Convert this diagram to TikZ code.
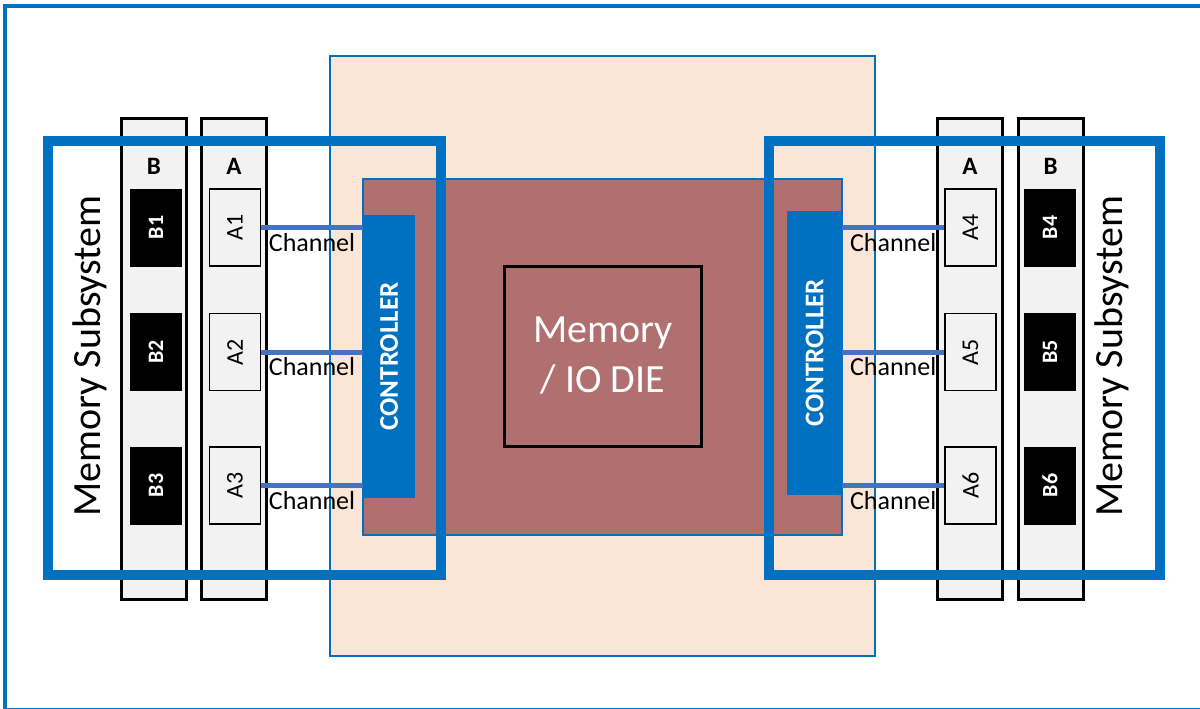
\documentclass[tikz,border=0pt]{standalone}
\usepackage{fontspec}
\setmainfont{Carlito}
\usepackage{xcolor}
\usetikzlibrary{positioning, calc}
\definecolor{frameblue}{HTML}{0070C0}
\definecolor{chanblue}{HTML}{4472C4}
\definecolor{peach}{HTML}{FBE5D6}
\definecolor{diered}{HTML}{B07070}
\definecolor{slotgray}{HTML}{F2F2F2}
\tikzstyle{dimm} = [draw=black, line width=3pt, fill=slotgray, minimum width=65pt, minimum height=481pt, inner sep=0pt]
\tikzstyle{slotA} = [draw=black, line width=1.5pt, fill=slotgray, minimum width=51pt, minimum height=77pt, inner sep=0pt, font=\fontsize{24}{28}\selectfont]
\tikzstyle{slotB} = [fill=black, text=white, minimum width=52pt, minimum height=78pt, inner sep=0pt, font=\bfseries\fontsize{22}{26}\selectfont]
\tikzstyle{hdr} = [inner sep=0pt, font=\bfseries\fontsize{25}{30}\selectfont]
\tikzstyle{ctrl} = [fill=frameblue, text=white, inner sep=0pt, font=\bfseries\fontsize{27}{32}\selectfont]
\tikzstyle{channel} = [chanblue, line width=5pt]
\tikzstyle{chanlabel} = [below=3pt, inner sep=0pt, text=black, font=\fontsize{26}{30}\selectfont]
\tikzstyle{subsys} = [draw=frameblue, line width=10pt]
\tikzstyle{subsyslabel} = [inner sep=0pt, font=\fontsize{40}{48}\selectfont]

\begin{document}
\begin{tikzpicture}[x=1pt, y=-1pt]
    \useasboundingbox (0,0) rectangle (1200,709);
    \clip (0,0) rectangle (1200,709);
    % Outer frame
    \draw[frameblue, line width=4pt] (5,6) rectangle (1210,710);

    % Package and die
    \draw[frameblue, fill=peach, line width=1.2pt] (330,56) rectangle (875,656);
    \draw[frameblue, fill=diered, line width=1.2pt] (363,179) rectangle (842,535);
    \node[draw=black, line width=3pt, minimum width=197pt, minimum height=180pt, inner sep=0pt,
          text=white, align=center, font=\fontsize{40}{50}\selectfont] (iodie) at (603,356) {Memory\\/ IO DIE};

    % Controllers
    \node[ctrl, minimum width=52pt, minimum height=283pt] (ctrlL) at (389,356.5) {\rotatebox{90}{CONTROLLER}};
    \node[ctrl, minimum width=55pt, minimum height=284pt] (ctrlR) at (814.5,353) {\rotatebox{90}{CONTROLLER}};

    % DIMM columns
    \node[dimm] (colBL) at (154,358.5) {};
    \node[dimm] (colAL) at (234,358.5) {};
    \node[dimm] (colAR) at (970,358.5) {};
    \node[dimm] (colBR) at (1050.5,358.5) {};
    \node[hdr] (hdrBL) at (154,166) {B};
    \node[hdr] (hdrAL) at (234,166) {A};
    \node[hdr] (hdrAR) at (970,166) {A};
    \node[hdr] (hdrBR) at (1050.5,166) {B};

    % Left slots and channels
    \foreach \i/\y in {1/227.5, 2/352, 3/485.5} {
        \node[slotB] (B\i) at (156,\y) {\rotatebox{90}{B\i}};
        \node[slotA] (A\i) at (235,\y) {\rotatebox{90}{A\i}};
        \draw[channel] (A\i.east) -- node[chanlabel] (chan\i) {Channel} (ctrlL.west |- A\i.east);
    }

    % Right slots and channels
    \foreach \i/\y in {4/227.5, 5/352, 6/485.5} {
        \node[slotA] (A\i) at (970.5,\y) {\rotatebox{90}{A\i}};
        \node[slotB] (B\i) at (1050,\y) {\rotatebox{90}{B\i}};
        \draw[channel] (ctrlR.east |- A\i.west) -- node[chanlabel] (chan\i) {Channel} (A\i.west);
    }

    % Memory subsystems
    \draw[subsys] (48,141) rectangle (441,575);
    \draw[subsys] (769,141) rectangle (1160,575);
    \node[subsyslabel] (subL) at (90,356) {\rotatebox{90}{Memory Subsystem}};
    \node[subsyslabel] (subR) at (1112,356) {\rotatebox{90}{Memory Subsystem}};
\end{tikzpicture}
\end{document}
